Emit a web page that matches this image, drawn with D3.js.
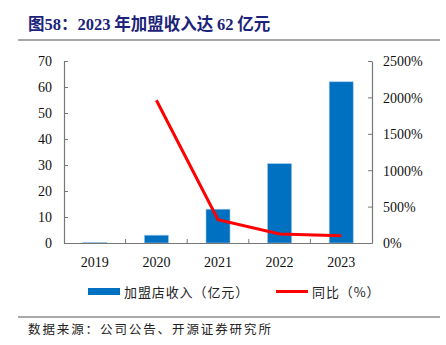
<!DOCTYPE html>
<html><head><meta charset="utf-8">
<script src="https://cdn.jsdelivr.net/npm/d3@7"></script>
<style>body{margin:0;background:#fff}svg{display:block}</style>
</head><body>
<svg id="c" width="446" height="345"></svg>
<script>
const categories = ["2019","2020","2021","2022","2023"];
const revenue = [0.15, 3.0, 13.0, 30.5, 62.0];
const yoy = [null, 1960, 320, 125, 100];
const leftTicks = [0,10,20,30,40,50,60,70];
const rightTicks = [0,500,1000,1500,2000,2500];
const titleText = "图58：2023 年加盟收入达 62 亿元";
const sourceText = "数据来源：公司公告、开源证券研究所";
const legendLabels = ["加盟店收入（亿元）","同比（%）"];

const svg = d3.select("#c");
const m = {l:64, r:372, t:61, b:243};
const xb = d3.scaleBand().domain(categories).range([m.l, m.r]);
const yL = d3.scaleLinear().domain([0,70]).range([m.b, m.t]);
const yR = d3.scaleLinear().domain([0,2500]).range([m.b, m.t]);
const serif = "'Liberation Serif','Times New Roman',serif";
const cjk = "'Noto Sans CJK SC',sans-serif";

// title
svg.append("text").attr("x",28).attr("y",30).attr("fill","#1b237a")
  .attr("font-family",serif).attr("font-weight","bold").attr("font-size",16.5)
  .selectAll("tspan").data(titleText.split(/(\d+|[^\d]+)/).filter(s=>s)).join("tspan")
  .attr("font-family",d=>/\d/.test(d)?serif:cjk).text(d=>d);
svg.append("line").attr("x1",18).attr("x2",440).attr("y1",40).attr("y2",40).attr("stroke","#8a8a8a").attr("stroke-width",1.5);

// bars
svg.append("g").selectAll("rect").data(revenue).join("rect")
  .attr("x",(d,i)=>xb(categories[i])+xb.bandwidth()/2-12)
  .attr("width",24)
  .attr("y",d=>yL(d)).attr("height",d=>m.b-yL(d))
  .attr("fill","#0070c0").attr("stroke","#9cc3e5").attr("stroke-width",0.6);

// line
const pts = yoy.map((v,i)=>({v,c:categories[i]})).filter(d=>d.v!=null);
svg.append("path").datum(pts)
  .attr("d", d3.line().x(d=>xb(d.c)+xb.bandwidth()/2).y(d=>yR(d.v)))
  .attr("fill","none").attr("stroke","#ff0000").attr("stroke-width",3);

// axes
const axColor = "#777";
const gL = svg.append("g").attr("transform",`translate(${m.l},0)`)
  .call(d3.axisLeft(yL).tickValues(leftTicks).tickSizeInner(-4).tickSizeOuter(0).tickPadding(12));
const gR = svg.append("g").attr("transform",`translate(${m.r},0)`)
  .call(d3.axisRight(yR).tickValues(rightTicks).tickFormat(d=>d+"%").tickSizeInner(-4).tickSizeOuter(0).tickPadding(11));
const gB = svg.append("g").attr("transform",`translate(0,${m.b})`)
  .call(d3.axisBottom(xb).tickSize(0).tickPadding(19));
svg.append("g").selectAll("line").data(categories.slice(1)).join("line")
  .attr("x1",d=>xb(d)).attr("x2",d=>xb(d)).attr("y1",m.b).attr("y2",m.b-4)
  .attr("stroke",axColor);
[gL,gR,gB].forEach(g=>{
  g.selectAll("path").attr("stroke",axColor).attr("stroke-width",1.2);
  g.selectAll("line").attr("stroke",axColor);
  g.selectAll("text").attr("font-family",serif).attr("font-size",14).attr("fill","#111");
});
gL.selectAll(".tick text").attr("dy","0.35em");
gR.selectAll(".tick text").attr("dy","0.35em");
gB.selectAll(".tick text").attr("dy","0.35em");

// legend
svg.append("rect").attr("x",88).attr("y",288).attr("width",32).attr("height",7).attr("fill","#0070c0");
svg.append("text").attr("x",124).attr("y",296.5).attr("font-family",cjk).attr("font-size",13).attr("letter-spacing",0.9).attr("fill","#222").text(legendLabels[0]);
svg.append("line").attr("x1",276).attr("x2",308).attr("y1",291.5).attr("y2",291.5).attr("stroke","#ff0000").attr("stroke-width",3);
svg.append("text").attr("x",312).attr("y",296.5).attr("font-family",cjk).attr("font-size",13).attr("letter-spacing",0.9).attr("fill","#222").text(legendLabels[1]);

// footer
svg.append("line").attr("x1",18).attr("x2",440).attr("y1",317).attr("y2",317).attr("stroke","#555").attr("stroke-width",1);
svg.append("text").attr("x",28).attr("y",334).attr("font-family",cjk).attr("font-size",12.5).attr("letter-spacing",1.9).attr("fill","#222").text(sourceText);
</script>
</body></html>
